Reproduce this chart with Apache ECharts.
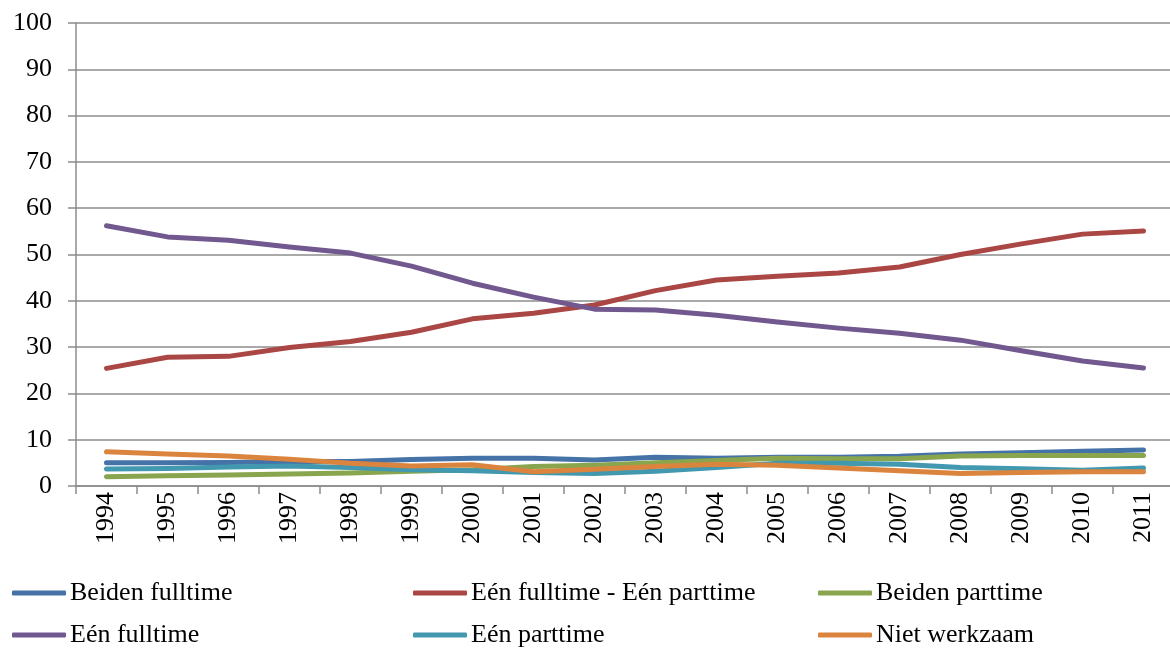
<!DOCTYPE html>
<html>
<head>
<meta charset="utf-8">
<script src="https://cdn.jsdelivr.net/npm/echarts@6/dist/echarts.min.js"></script>
<style>
  html, body { margin: 0; padding: 0; background: #ffffff; }
  #chart { width: 1170px; height: 651px; }
</style>
</head>
<body>
<div id="chart"></div>
<script>
const years = ['1994', '1995', '1996', '1997', '1998', '1999', '2000', '2001', '2002',
  '2003', '2004', '2005', '2006', '2007', '2008', '2009', '2010', '2011']
const yTicks = [0, 10, 20, 30, 40, 50, 60, 70, 80, 90, 100]

const beidenFulltime = [5.0, 5.0, 5.1, 5.3, 5.3, 5.7, 6.0, 6.0, 5.6, 6.2, 6.0, 6.2, 6.2, 6.4, 6.9, 7.2, 7.5, 7.8]
const eenFullEenPart = [25.4, 27.8, 28.0, 29.9, 31.2, 33.2, 36.1, 37.3, 39.1, 42.2, 44.5, 45.3, 46.0, 47.3, 50.0, 52.3, 54.4, 55.1]
const beidenParttime = [2.0, 2.2, 2.4, 2.6, 2.8, 3.2, 3.5, 4.2, 4.5, 5.0, 5.5, 6.0, 5.9, 5.9, 6.5, 6.6, 6.6, 6.6]
const eenFulltime = [56.2, 53.8, 53.1, 51.6, 50.3, 47.5, 43.8, 40.8, 38.2, 38.0, 36.9, 35.4, 34.1, 33.0, 31.5, 29.2, 27.0, 25.5]
const eenParttime = [3.65, 3.8, 4.1, 4.3, 4.0, 3.5, 3.3, 2.9, 2.7, 3.2, 4.0, 4.9, 4.9, 4.7, 4.0, 3.7, 3.4, 3.9]
const nietWerkzaam = [7.4, 6.9, 6.5, 5.8, 4.9, 4.3, 4.6, 3.1, 3.6, 4.2, 4.7, 4.5, 3.9, 3.3, 2.7, 2.9, 3.1, 3.1]

const names = ['Beiden fulltime', 'Eén fulltime - Eén parttime', 'Beiden parttime',
  'Eén fulltime', 'Eén parttime', 'Niet werkzaam']
const colors = ['#4572A7', '#AA4643', '#89A54E', '#71588F', '#4198AF', '#DB843D']
const values = [beidenFulltime, eenFullEenPart, beidenParttime, eenFulltime, eenParttime, nietWerkzaam]

const font = '"Liberation Serif", "DejaVu Serif", serif'

// legend slots: 3 columns x 2 rows
const legendPos = [
  { left: 12, top: 580 }, { left: 413, top: 580 }, { left: 818, top: 580 },
  { left: 12, top: 622 }, { left: 413, top: 622 }, { left: 818, top: 622 },
]

const chart = echarts.init(document.getElementById('chart'))
const option = {
  animation: false,
  color: colors,
  grid: {
    left: 76, top: 23, width: 1098, height: 463,
    containLabel: false,
    outerBoundsMode: 'none',
  },
  legend: names.map((n, i) => ({
    data: [n],
    left: legendPos[i].left,
    top: legendPos[i].top,
    icon: 'roundRect',
    itemWidth: 54,
    itemHeight: 5,
    itemGap: 4,
    padding: 0,
    textStyle: { fontFamily: font, fontSize: 26, color: '#000000', padding: [0, 0, 0, -1] },
  })),
  xAxis: {
    type: 'category',
    data: years,
    boundaryGap: true,
    axisLine: { lineStyle: { color: '#8c8c8c', width: 1.5 } },
    axisTick: { show: true, length: 8, lineStyle: { color: '#8c8c8c', width: 1.5 } },
    axisLabel: {
      rotate: 90, interval: 0, margin: 6,
      fontFamily: font, fontSize: 26, color: '#000000',
    },
  },
  yAxis: {
    type: 'value',
    min: yTicks[0],
    max: yTicks[yTicks.length - 1],
    interval: 10,
    axisLine: { show: true, lineStyle: { color: '#8c8c8c', width: 1.5 } },
    axisTick: { show: true, length: 8, lineStyle: { color: '#8c8c8c', width: 1.5 } },
    splitLine: { lineStyle: { color: '#8c8c8c', width: 1.5 } },
    axisLabel: { margin: 24, fontFamily: font, fontSize: 26, color: '#000000' },
  },
  series: names.map((n, i) => ({
    name: n,
    type: 'line',
    data: values[i],
    showSymbol: false,
    symbol: 'none',
    lineStyle: { width: 5, color: colors[i], cap: 'round', join: 'round' },
    itemStyle: { color: colors[i] },
  })),
}
chart.setOption(option)
</script>
</body>
</html>
